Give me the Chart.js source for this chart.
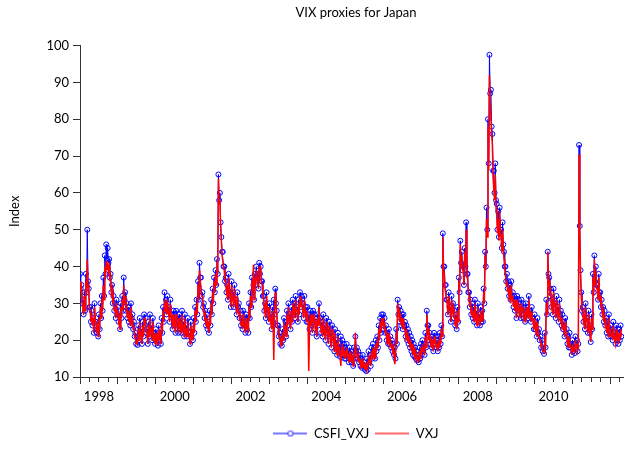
<!DOCTYPE html>
<html><head><meta charset="utf-8">
<script src="https://cdn.jsdelivr.net/npm/chart.js@4/dist/chart.umd.min.js"></script>
<style>
html,body{margin:0;padding:0;background:#fff;overflow:hidden;width:624px;height:450px}
#wrap{width:712px;height:450px}
</style></head>
<body><div id="wrap"><canvas id="c" width="712" height="450"></canvas></div>
<script>
// Weekly readings (52 per year) starting January 1998
const startYear = 1998;
const perYear = 52;
const yearLabels = ['1998','2000','2002','2004','2006','2008','2010'];
const yTicks = [10,20,30,40,50,60,70,80,90,100];

const csfiVxj = [
/*1998*/ 38,34,35,30,31,27,33,28,38,33,50,36,34,29,29,25,28,24,26,22,30,25,25,22,23,21,27,23,30,26,32,28,37,32,43,38,46,42,45,41,42,37,38,33,35,30,32,28,30,26,31,27,
/*1999*/ 29,25,27,23,30,26,32,28,37,31,33,28,30,26,29,25,28,24,30,26,27,23,25,21,22,19,21,18.7,24,20,26,22,23,19,25,21,27,24,26,22,23,19,25,21,27,23,24,20,26,22,22,19,
/*2000*/ 23,20,21,18.5,24,20,22,19,26,22,29,25,33,28,31,27,32,28,29,25,31,27,27,23,28,24,26,22,28,24,25,22,27,23,26,22,28,24,25,21,27,23,24,21,26,22,22,19,25,21,23,20,
/*2001*/ 26,22,29,25,31,27,36,31,41,37,37,32,33,29,30,26,28,24,27,23,25,22,28,24,31,27,34,30,37,33,39,35,42,38,65,58,60,52,48,44,44,40,40,36,37,33,35,31,38,33,33,29,
/*2002*/ 36,32,33,29,35,31,31,27,33,29,30,26,28,24,26,23,28,24,25,22,27,23,26,22,30,26,33,29,37,33,35,31,38,35,40,37,38,34,41,38,40,36,36,32,32,28,30,26,33,29,29,25,
/*2003*/ 30,26,27,23,29,25,31,27,34,30,28,24,24,21,22,19,21,18.5,23,20,26,22,25,21,28,24,30,26,27,23,29,25,31,27,30,26,32,28,29,25,31,27,33,29,32,30,30,26,32,28,29,25,
/*2004*/ 29,25,27,23,28,24,26,22,28,25,27,23,25,21,27,24,30,26,26,22,25,21,27,23,24,20,26,22,23,19,25,21,22,18,24,20,21,17,23,19,20,16,22,18,19,15.5,21,17,20,16,19,15,
/*2005*/ 18,15,19,16,17,14,18,15,17,14,16,13,18,15,21,17,18,15,17,14,16,13,15,12.5,16,13,14,12,13,11.6,15,12,17,14,16,13,18,15,19,16,18,15,20,17,21,18,24,20,26,22,27,24,
/*2006*/ 27,23,26,22,24,20,22,19,23,19,21,18,20,17,19,16,18,15,23,19,31,27,29,25,28,24,27,23,27,24,25,21,24,20,23,19,22,18,21,17,20,16,19,15.5,18,15,17,14.5,16,14,18,15,
/*2007*/ 19,16,20,17,19,16,22,18,28,24,24,20,22,19,21,18,20,17,22,19,21,18,20,17,21,18,22,19,24,21,49,40,40,35,35,31,31,27,33,29,29,25,32,28,30,26,28,24,27,23,29,25,
/*2008*/ 37,33,47,41,44,39,40,35,45,40,52,38,38,33,33,29,31,27,30,26,29,25,31,27,28,24,30,26,27,24,29,25,28,25,34,30,44,40,56,50,80,68,97.5,87,88,78,76,66,66,60,68,58,
/*2009*/ 57,50,55,48,56,50,50,45,52,46,44,40,40,36,38,34,36,32,35,31,36,32,33,29,32,28,30,26,32,29,31,27,29,26,31,28,30,26,28,25,30,27,29,26,32,28,28,25,29,26,26,23,
/*2010*/ 27,23,25,21,26,22,23,20,21,18,20,17,18,16.3,22,18,31,27,44,38,37,32,34,29,31,27,34,30,30,26,32,28,29,25,31,27,28,24,27,23,25,21,26,22,23,19,21,18,22,18,19,16,
/*2011*/ 20,17,19,16.5,21,18,20,17,19,73,51,39,33,28,29,25,27,23,30,26,26,22,28,24,22,19.5,27,23,38,33,43,36,40,35,35,31,38,33,33,29,31,27,29,25,28,24,26,22,25,21,27,23,
/*2012*/ 24,21,23,20,25,21,22,19,24,20,22,19,23,20,24,21
];

const vxj = [
/*1998*/ 36,33,34,30,30,27,32,28,36,32,42,35,33,29,28,25,27,24,26,22,29,25,25,22,23,21,26,23,29,26,31,28,35,31,40,37,41.5,39,41,39,40,36,37,33,34,30,31,28,29,26,30,27,
/*1999*/ 28,25,26,23,29,26,31,28,35,30,32,28,29,26,28,25,27,24,29,26,26,23,24,21,21,19,20,18.7,23,20,25,22,22,19,24,21,26,24,25,22,22,19,24,21,26,23,23,20,25,22,21,19,
/*2000*/ 22,20,21,18.5,23,20,22,19,25,22,28,25,31,28,30,27,31,28,28,25,30,27,26,23,27,24,25,22,27,24,24,22,26,23,25,22,27,24,24,21,26,23,23,21,25,22,21,19,24,21,22,20,
/*2001*/ 25,22,28,25,30,27,35,31,39,36,36,32,32,29,29,26,27,24,26,23,25,22,27,24,30,27,33,30,36,33,38,35,41,38,64,57,58,51,47,43,43,40,39,36,36,33,34,31,37,33,32,29,
/*2002*/ 35,32,32,29,34,31,30,27,32,29,29,26,27,24,25,23,27,24,24,22,26,23,25,22,29,26,32,29,36,33,40.5,31,37,35,39,37,37,34,40,38,39,36,35,32,31,28,29,26,32,29,28,25,
/*2003*/ 29,26,26,23,28,25,14.6,27,33,30,27,24,23,21,21,19,20,18.5,22,20,25,22,24,21,27,24,29,26,26,23,28,25,30,27,29,26,31,28,28,25,30,27,32,29,31,29,29,26,31,28,28,25,
/*2004*/ 28,25,11.6,23,27,24,25,22,27,25,26,23,24,21,26,24,29,26,25,22,24,21,26,23,23,20,25,22,22,19,24,21,21,18,23,20,20,17,22,19,19,16,21,18,18,15.5,13,17,19,16,18,15,
/*2005*/ 17,15,18,16,16,14,17,15,16,14,15,13,17,15,22,17,17,15,16,14,15,13,14,12.5,15,13,13.5,12,13,12,14,12,16,14,15,13,17,15,18,16,17,15,19,17,20,18,23,20,25,22,26,24,
/*2006*/ 26,23,25,22,23,20,21,19,22,19,20,18,19,17,18,16,13.5,15,22,19,30,27,28,25,27,24,26,23,26,24,24,21,23,20,22,19,21,18,20,17,19,16,18,15.5,17,15,16,14.5,15,14,17,15,
/*2007*/ 18,16,19,17,18,16,21,18,27,24,23,20,21,19,20,18,19,17,21,19,20,18,19,17,20,18,21,19,23,21,48,39,38,34,34,31,30,27,32,29,28,25,31,28,29,26,27,24,26,23,28,25,
/*2008*/ 36,33,46,40,43,39,39,35,44,40,50,37,37,33,32,29,30,27,29,26,28,25,30,27,27,24,29,26,26,24,28,25,27,25,33,30,43,39,53,48,78,66,92,85,85,76,73,64,64,58,65,56,
/*2009*/ 54,49,53,47,55,49,48,44,50,45,42,39,38,35,36,33,35,31,34,30,35,31,32,29,31,28,29,26,31,28,30,27,28,26,30,28,29,26,27,25,29,27,28,26,31,28,27,25,28,26,25,23,
/*2010*/ 26,23,24,21,25,22,22,20,20,18,19,17,17,16.5,21,18,30,27,44,37,36,32,33,29,30,27,33,30,29,26,31,28,28,25,30,27,27,24,26,23,24,21,25,22,22,19,20,18,21,18,18,16,
/*2011*/ 19,17,18,16.5,20,18,19,17,18,70.5,50,38,32,28,28,25,26,23,29,26,25,22,27,24,21,19.5,26,23,37,32,42,35,39,34,34,31,37,33,32,29,30,27,28,25,27,24,25,22,24,21,26,23,
/*2012*/ 23,21,22,20,24,21,21,19,23,20,21,19,22,20,23,21
];

const toPoints = arr => arr.map((v, i) => ({x: startYear + i / perYear, y: v}));

function legendIcon(kind) {
  const cv = document.createElement('canvas');
  cv.width = 34; cv.height = 10;
  const g = cv.getContext('2d');
  g.lineWidth = 2;
  g.strokeStyle = kind === 'blue' ? '#7676ff' : '#ff6a6a';
  g.beginPath(); g.moveTo(0, 5); g.lineTo(34, 5); g.stroke();
  if (kind === 'blue') {
    g.fillStyle = '#fff';
    g.lineWidth = 1.2;
    g.strokeStyle = '#4a4aff';
    g.beginPath(); g.arc(17, 5, 2.5, 0, Math.PI * 2); g.fill(); g.stroke();
  }
  return cv;
}
const iconBlue = legendIcon('blue');
const iconRed = legendIcon('red');

const FONT = 'Lato';
const axisColor = '#333';

new Chart(document.getElementById('c'), {
  type: 'line',
  data: {
    datasets: [
      {
        label: 'CSFI_VXJ',
        data: toPoints(csfiVxj),
        borderColor: '#0000ff',
        borderWidth: 1,
        pointRadius: 2.5,
        pointBorderWidth: 1,
        pointBorderColor: '#0000ff',
        pointBackgroundColor: 'rgba(255,255,255,0)',
        tension: 0,
        order: 2
      },
      {
        label: 'VXJ',
        data: toPoints(vxj),
        borderColor: '#ff0000',
        borderWidth: 1.5,
        pointRadius: 0,
        tension: 0,
        order: 1
      }
    ]
  },
  options: {
    responsive: false,
    animation: false,
    devicePixelRatio: 1,
    layout: {padding: 0},
    plugins: {
      title: {
        display: true,
        text: 'VIX proxies for Japan',
        color: '#000',
        font: {family: FONT, size: 13, weight: 'normal'},
        padding: {top: 5, bottom: 25}
      },
      legend: {
        position: 'bottom',
        labels: {
          usePointStyle: true,
          pointStyleWidth: 34,
          padding: 6,
          color: '#000',
          font: {family: FONT, size: 13},
          generateLabels: () => [
            {text: 'CSFI_VXJ', pointStyle: iconBlue, fillStyle: 'transparent', strokeStyle: 'transparent', lineWidth: 0, fontColor: '#000', datasetIndex: 0},
            {text: 'VXJ', pointStyle: iconRed, fillStyle: 'transparent', strokeStyle: 'transparent', lineWidth: 0, fontColor: '#000', datasetIndex: 1}
          ]
        }
      },
      tooltip: {enabled: false}
    },
    scales: {
      x: {
        type: 'linear',
        min: 1998,
        max: 2014.55,
        afterBuildTicks: s => {
          const t = [];
          for (let q = 0; q <= 66; q++) t.push({value: startYear + q * 0.25});
          s.ticks = t;
        },
        afterFit: s => { s.height = 44; },
        border: {display: true, color: axisColor, width: 1},
        grid: {
          drawOnChartArea: false,
          drawTicks: true,
          tickLength: 7,
          tickColor: axisColor,
          tickWidth: 1,
          tickBorderDash: ctx => (ctx.tick && Math.abs(ctx.tick.value - Math.round(ctx.tick.value)) < 1e-6) ? [] : [4, 30]
        },
        ticks: {
          autoSkip: false,
          maxRotation: 0,
          minRotation: 0,
          padding: 5,
          color: '#000',
          font: {family: FONT, size: 13},
          callback: v => {
            const y = Math.floor(v + 1e-9);
            if (Math.abs(v - y - 0.5) < 1e-6 && yearLabels.includes(String(y))) return String(y);
            return '';
          }
        }
      },
      y: {
        min: 10,
        max: 100,
        afterBuildTicks: s => { s.ticks = yTicks.map(v => ({value: v})); },
        afterFit: s => { s.width = 80; },
        border: {display: true, color: axisColor, width: 1},
        grid: {drawOnChartArea: false, drawTicks: true, tickLength: 7, tickColor: axisColor},
        ticks: {padding: 4, color: '#000', font: {family: FONT, size: 13}},
        title: {display: true, text: 'Index', color: '#000', font: {family: FONT, size: 13}, padding: {top: 7, bottom: 0}}
      }
    }
  }
});
</script>
</body></html>
